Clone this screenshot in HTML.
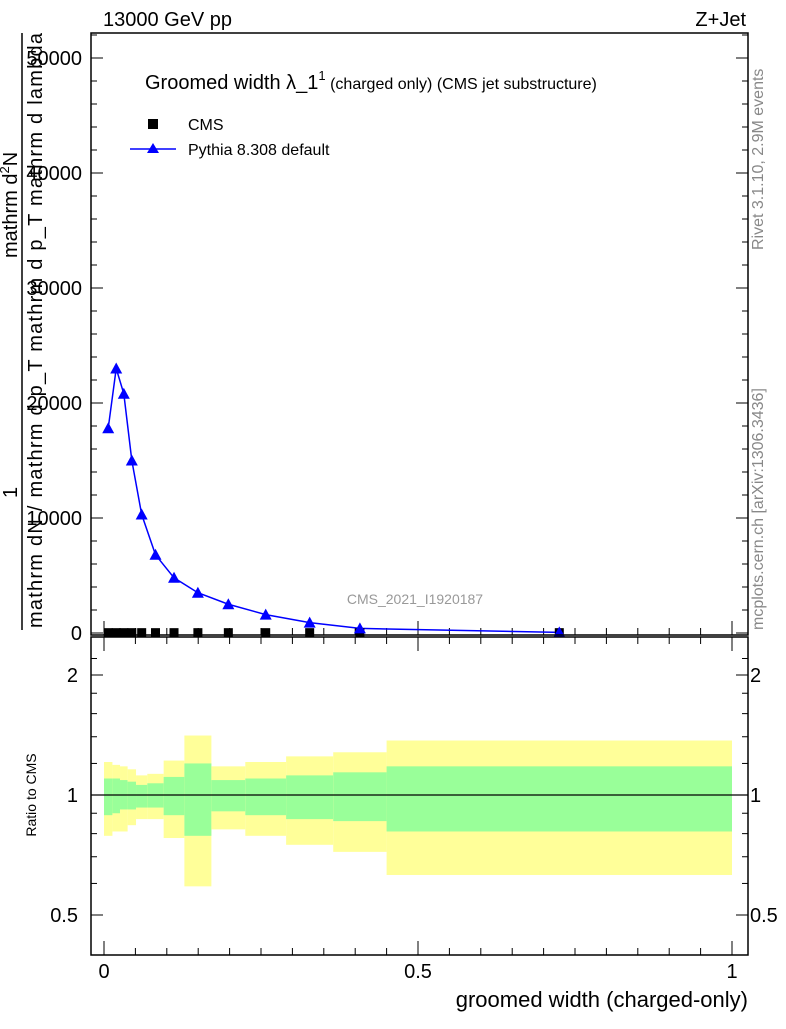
<!DOCTYPE html>
<html><head><meta charset="utf-8"><style>
body{margin:0;background:#fff}
svg text{font-family:"Liberation Sans",sans-serif}
</style></head><body>
<svg id="c" width="786" height="1024" xmlns="http://www.w3.org/2000/svg">
<g id="bands"></g>
<g id="axes"></g>
<g id="marks"></g>
<rect x="91" y="33" width="657" height="602" fill="none" stroke="#000" stroke-width="1.5"/>
<rect x="91" y="637" width="657" height="318" fill="none" stroke="#000" stroke-width="1.5"/>
<text x="103" y="26" font-size="20">13000 GeV pp</text>
<text x="746" y="26" font-size="20" text-anchor="end">Z+Jet</text>
<text x="145" y="89" font-size="20">Groomed width λ_1<tspan font-size="13" dy="-9">1</tspan><tspan font-size="16" dy="9"> (charged only) (CMS jet substructure)</tspan></text>
<rect x="148" y="119" width="10" height="10" fill="#000"/>
<text x="188" y="130" font-size="16">CMS</text>
<line x1="130" y1="149" x2="176" y2="149" stroke="#00f" stroke-width="1.5"/>
<path d="M153,143 L159,153 L147,153Z" fill="#00f"/>
<text x="188" y="155" font-size="16">Pythia 8.308 default</text>
<text x="415" y="604" font-size="14" fill="#999" text-anchor="middle">CMS_2021_I1920187</text>
<text transform="translate(763,250) rotate(-90)" font-size="16" fill="#888">Rivet 3.1.10,  2.9M events</text>
<text transform="translate(763,630) rotate(-90)" font-size="16" fill="#888">mcplots.cern.ch [arXiv:1306.3436]</text>
<text transform="translate(17,258) rotate(-90)" font-size="20">mathrm d<tspan font-size="13" dy="-8">2</tspan><tspan dy="8">N</tspan></text>
<text transform="translate(17,498) rotate(-90)" font-size="20">1</text>
<line x1="22" y1="33" x2="22" y2="630" stroke="#000" stroke-width="1.5"/>
<text transform="translate(42,628) rotate(-90)" font-size="20" textLength="595">mathrm dN / mathrm d p_T mathrm d p_T mathrm d lambda</text>
<text transform="translate(36,795) rotate(-90)" font-size="14" text-anchor="middle">Ratio to CMS</text>
<text x="748" y="1007" font-size="22" text-anchor="end">groomed width (charged-only)</text>
</svg>
<script>
const edges=[0,0.0134,0.0255,0.0376,0.051,0.069,0.095,0.128,0.171,0.225,0.29,0.365,0.45,1.0];
const pythia=[17800,23000,20800,15000,10300,6800,4800,3500,2500,1600,900,400,50];
const cms=[30,30,30,30,30,30,30,30,30,30,30,30,30];
const greenUp=[1.10,1.10,1.09,1.08,1.06,1.07,1.11,1.20,1.09,1.10,1.12,1.14,1.18];
const greenDn=[0.89,0.90,0.92,0.92,0.93,0.93,0.89,0.79,0.91,0.89,0.87,0.86,0.81];
const yelUp=[1.21,1.19,1.18,1.16,1.12,1.13,1.22,1.41,1.18,1.21,1.25,1.28,1.37];
const yelDn=[0.79,0.81,0.81,0.84,0.87,0.87,0.78,0.59,0.82,0.79,0.75,0.72,0.63];
const mainTicks=[0,10000,20000,30000,40000,50000];
const mainTickLabels=["0","10000","20000","30000","40000","50000"];
const xTicks=[0,0.5,1];
const xTickLabels=["0","0.5","1"];
const ratioTicks=[0.5,1,2];
const ratioTickLabels=["0.5","1","2"];
const NS='http://www.w3.org/2000/svg';
const X=v=>104+v*628;
const Y=v=>633-v*0.0115;
const R=r=>795-Math.log2(r)*120;
function mk(t,a,p){const e=document.createElementNS(NS,t);for(const k in a)e.setAttribute(k,a[k]);p.appendChild(e);return e;}
const bands=document.getElementById('bands'),axes=document.getElementById('axes'),marks=document.getElementById('marks');
for(let i=0;i<edges.length-1;i++){
 const x0=X(edges[i]),x1=X(edges[i+1]);
 let e=mk('rect',{x:x0,y:R(yelUp[i]),width:x1-x0,height:R(yelDn[i])-R(yelUp[i]),fill:'#ffff99'},bands);
 
 
 e=mk('rect',{x:x0,y:R(greenUp[i]),width:x1-x0,height:R(greenDn[i])-R(greenUp[i]),fill:'#99ff99'},bands);
 
 
}
let l=mk('line',{x1:91,x2:748,y1:R(1),y2:R(1),stroke:'#000','stroke-width':1.2},bands);


mainTicks.forEach((v,i)=>{
 let t=mk('text',{x:82,y:Y(v)+7,'font-size':20,'text-anchor':'end'},axes);t.textContent=mainTickLabels[i];
 
 
 mk('line',{x1:91,x2:103,y1:Y(v),y2:Y(v),stroke:'#000'},axes);
 mk('line',{x1:736,x2:748,y1:Y(v),y2:Y(v),stroke:'#000'},axes);
});
for(let v=0;v<=52000;v+=2000){mk('line',{x1:91,x2:97,y1:Y(v),y2:Y(v),stroke:'#000'},axes);mk('line',{x1:742,x2:748,y1:Y(v),y2:Y(v),stroke:'#000'},axes);}
for(let v=0;v<=1.0001;v+=0.05){const big=Math.abs(v*10-Math.round(v*10))<1e-6&&Math.round(v*10)%5===0;
 const h=big?14:7;
 mk('line',{x1:X(v),x2:X(v),y1:635,y2:635-h,stroke:'#000'},axes);
 mk('line',{x1:X(v),x2:X(v),y1:637,y2:637+h,stroke:'#000'},axes);
 mk('line',{x1:X(v),x2:X(v),y1:955,y2:955-h,stroke:'#000'},axes);}
xTicks.forEach((v,i)=>{let t=mk('text',{x:X(v),y:978,'font-size':20,'text-anchor':'middle'},axes);t.textContent=xTickLabels[i];
 
 });
ratioTicks.forEach((v,i)=>{
 let t=mk('text',{x:78,y:R(v)+7,'font-size':20,'text-anchor':'end'},axes);t.textContent=ratioTickLabels[i];
 
 
 t=mk('text',{x:750,y:R(v)+7,'font-size':20},axes);t.textContent=ratioTickLabels[i];
 
 
 mk('line',{x1:91,x2:103,y1:R(v),y2:R(v),stroke:'#000'},axes);mk('line',{x1:736,x2:748,y1:R(v),y2:R(v),stroke:'#000'},axes);});
[0.6,0.7,0.8,0.9,1.2,1.4,1.6,1.8,2.2].forEach(v=>{mk('line',{x1:91,x2:97,y1:R(v),y2:R(v),stroke:'#000'},axes);mk('line',{x1:742,x2:748,y1:R(v),y2:R(v),stroke:'#000'},axes);});
const cx=edges.slice(0,-1).map((e,i)=>(e+edges[i+1])/2);
let pl=mk('polyline',{points:cx.map((c,i)=>X(c)+','+Y(pythia[i])).join(' '),fill:'none',stroke:'#00f','stroke-width':1.5},marks);


cx.forEach((c,i)=>{
 const x=X(c),y=Y(pythia[i]);
 let s=mk('rect',{x:x-4.5,y:Y(cms[i])-4.5,width:9,height:9,fill:'#000'},marks);
 
 
 let p=mk('path',{d:`M${x},${y-6} L${x+6},${y+5} L${x-6},${y+5}Z`,fill:'#00f'},marks);
 
 
});
</script>
</body></html>
